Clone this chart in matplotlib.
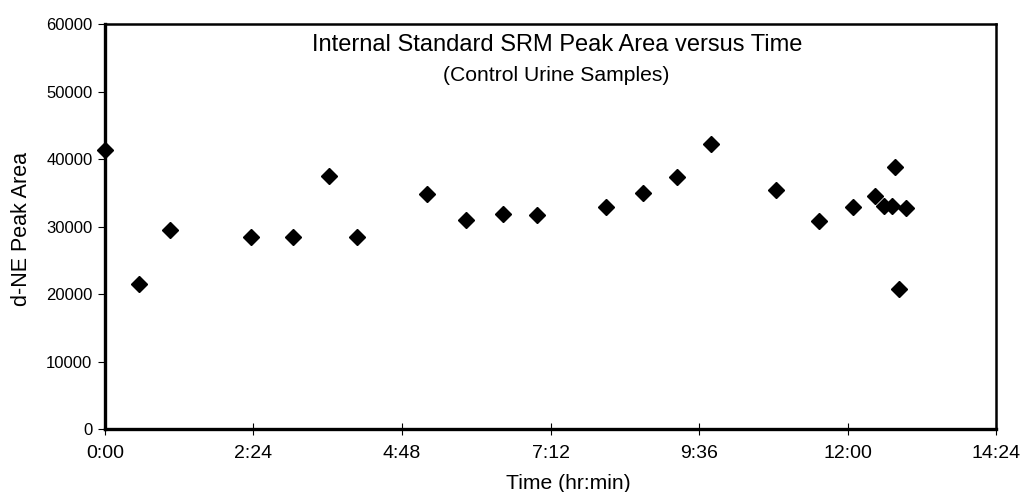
import matplotlib
matplotlib.use('Agg')
import matplotlib.pyplot as plt
from matplotlib.ticker import FuncFormatter, MultipleLocator

plt.rcParams['font.family'] = ['Liberation Sans', 'DejaVu Sans']

# tiempo en minutos desde el inicio y area de pico
tiempo_min = [0, 33, 63, 142, 182, 217, 244, 312, 350, 386, 419, 486,
              522, 555, 588, 651, 692, 725, 747, 755, 763, 766, 770, 777]
area_pico = [41350, 21470, 29500, 28420, 28420, 37550, 28420, 34880, 30940,
             31830, 31730, 32910, 34980, 37350, 42240, 35380, 30840, 32910,
             34580, 33100, 33100, 38790, 20770, 32720]


def hhmm(x, pos):
    m = int(round(x))
    return '%d:%02d' % (m // 60, m % 60)


fig = plt.figure(figsize=(10.22, 4.92), dpi=100)
ax = fig.add_axes([0.1027, 0.1274, 0.8719, 0.8238])

ax.plot(tiempo_min, area_pico, linestyle='none', marker='D',
        markersize=8.5, color='black', clip_on=False)

ax.set_xlim(0, 864)
ax.set_ylim(0, 60000)
ax.xaxis.set_major_locator(MultipleLocator(144))
ax.xaxis.set_major_formatter(FuncFormatter(hhmm))
ax.yaxis.set_major_locator(MultipleLocator(10000))

for lado in ['left', 'bottom']:
    ax.spines[lado].set_linewidth(2.4)
for lado in ['top', 'right']:
    ax.spines[lado].set_linewidth(1.8)

ax.tick_params(axis='x', direction='inout', length=9, width=0.8,
               labelsize=14, pad=7)
ax.tick_params(axis='y', direction='out', length=5, width=0.8,
               labelsize=12, pad=4)

ax.set_xlabel('Time (hr:min)', fontsize=15.2, va='center')
ax.xaxis.set_label_coords(0.5197, -0.1325)
ax.set_ylabel('d-NE Peak Area', fontsize=15.5, va='center')
ax.yaxis.set_label_coords(-0.0932, 0.494)

ax.text(0.507, 0.948, 'Internal Standard SRM Peak Area versus Time',
        transform=ax.transAxes, ha='center', va='center', fontsize=17)
ax.text(0.506, 0.874, '(Control Urine Samples)',
        transform=ax.transAxes, ha='center', va='center', fontsize=15.2)

fig.savefig('out.png', dpi=100)
